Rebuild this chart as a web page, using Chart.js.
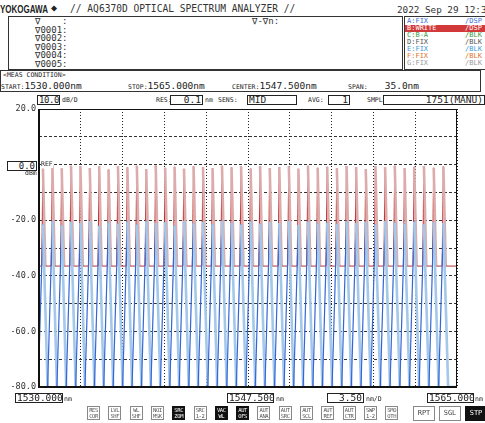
<!DOCTYPE html>
<html>
<head>
<meta charset="utf-8">
<script src="https://cdn.jsdelivr.net/npm/chart.js@4.4.1/dist/chart.umd.min.js"></script>
<style>
body{margin:0;width:485px;height:423px;overflow:hidden;background:#fff;position:relative;
  font-family:"DejaVu Sans Mono",monospace;color:#222}
.t{position:absolute;white-space:pre;line-height:1}
.box{position:absolute;border:1px solid #333;box-sizing:border-box}
.sm{font-size:6.5px}
.val{position:absolute;border:1px solid #222;box-sizing:border-box;font-size:9.5px;line-height:8px;
  white-space:pre;text-align:right;padding:0 1px;background:#fff}
.btn{position:absolute;top:406px;width:13px;height:14px;border:1px solid #888;box-sizing:border-box;
  font-size:5.5px;line-height:5.5px;text-align:center;color:#555;padding-top:1px;letter-spacing:-0.4px}
.btn.on{background:#111;color:#fff;border-color:#111}
.big{position:absolute;top:406px;height:15px;border:1px solid #888;box-sizing:border-box;
  font-size:7px;line-height:13px;text-align:center;color:#444}
canvas{position:absolute;left:0;top:100px}
</style>
</head>
<body>
<div class="t" style="left:0;top:4px;font:bold 10px 'Liberation Sans',sans-serif;transform:scaleX(0.8);transform-origin:left">YOKOGAWA</div>
<div class="t" style="left:51px;top:3px;font-size:10px">◆</div>
<div class="t" style="left:70px;top:4px;font-size:9.6px;color:#333">// AQ6370D OPTICAL SPECTRUM ANALYZER //</div>
<div class="t" style="left:397px;top:5px;font-size:9.3px;color:#333">2022 Sep 29 12:34</div>

<div class="box" style="left:8px;top:16px;width:395px;height:54px"></div>
<div class="t" style="left:35px;top:17px;font-size:9px;line-height:8.6px;color:#333">∇    :
∇0001:
∇0002:
∇0003:
∇0004:
∇0005:</div>
<div class="t" style="left:252px;top:17px;font-size:9px;color:#333">∇-∇n:</div>

<div class="box" style="left:404px;top:16px;width:90px;height:54px"></div>
<div id="traces" style="position:absolute;left:405px;top:17.5px;width:90px;font-size:7px;line-height:7px"></div>

<div class="box" style="left:0;top:70px;width:481px;height:22px"></div>
<div class="t sm" style="left:3px;top:72px">&lt;MEAS CONDITION&gt;</div>
<div class="t" style="left:1px;top:79px;line-height:10px"><span class="sm">START:</span><span style="font-size:9.5px">1530.000nm</span></div>
<div class="t" style="left:128px;top:79px;line-height:10px"><span class="sm">STOP:</span><span style="font-size:9.5px">1565.000nm</span></div>
<div class="t" style="left:232px;top:79px;line-height:10px"><span class="sm">CENTER:</span><span style="font-size:9.5px">1547.500nm</span></div>
<div class="t" style="left:348px;top:79px;line-height:10px"><span class="sm">SPAN:</span><span style="font-size:9.5px">   35.0nm</span></div>

<div class="val" style="left:37px;top:95px;width:23px;font-size:9px;letter-spacing:-0.4px">10.0</div>
<div class="t sm" style="left:62px;top:97px">dB/D</div>
<div class="t sm" style="left:156px;top:97px">RES:</div>
<div class="val" style="left:170px;top:95px;width:33px">0.1</div>
<div class="t sm" style="left:205px;top:97px">nm</div>
<div class="t sm" style="left:218px;top:97px">SENS:</div>
<div class="val" style="left:247px;top:95px;width:50px;text-align:left">MID</div>
<div class="t sm" style="left:308px;top:97px">AVG:</div>
<div class="val" style="left:328px;top:95px;width:22px">1</div>
<div class="t sm" style="left:367px;top:97px">SMPL:</div>
<div class="val" style="left:383px;top:95px;width:102px">1751(MANU)</div>

<canvas id="osa" width="485" height="300"></canvas>

<div class="val" style="left:7px;top:161px;width:30px;font-size:9px">0.0</div>
<div class="t sm" style="left:25px;top:170px">dBm</div>
<div class="t sm" style="left:41px;top:161px;background:#fff">REF</div>

<div class="val" style="left:15px;top:393px;width:48px">1530.000</div>
<div class="t sm" style="left:64px;top:396px">nm</div>
<div class="val" style="left:227px;top:393px;width:47px">1547.500</div>
<div class="t sm" style="left:276px;top:396px">nm</div>
<div class="val" style="left:327px;top:393px;width:37px">3.50</div>
<div class="t sm" style="left:366px;top:396px">nm/D</div>
<div class="val" style="left:427px;top:393px;width:47px">1565.000</div>
<div class="t sm" style="left:475px;top:396px">nm</div>

<div id="buttons"></div>
<div class="big" style="left:413px;width:22px">RPT</div>
<div class="big" style="left:439px;width:22px">SGL</div>
<div class="big" style="left:465px;width:22px;background:#111;color:#fff;border-color:#111">STP</div>

<script>
// axis settings of the instrument screen
const wlMin = 1530.0, wlMax = 1565.0, wlDiv = 3.5;
const levelMin = -80, levelMax = 20, levelDiv = 10;

// channel centres (nm)
const channels = [1530.33, 1531.12, 1531.90, 1532.68, 1533.47, 1534.25, 1535.04, 1535.82,
  1536.61, 1537.40, 1538.19, 1538.98, 1539.77, 1540.56, 1541.35, 1542.14, 1542.94, 1543.73,
  1544.53, 1545.32, 1546.12, 1546.92, 1547.72, 1548.51, 1549.32, 1550.12, 1550.92, 1551.72,
  1552.52, 1553.33, 1554.13, 1554.94, 1555.75, 1556.55, 1557.36, 1558.17, 1558.98, 1559.79,
  1560.61, 1561.42, 1562.23, 1563.05, 1563.86];

// trace B (WRITE, red) peak level per channel, dBm
const peaksB = [-1.5, -0.3, -1.4, -0.4, -0.5, -1.2, -0.6, -1.8, -0.5, -1.0, -0.4, -1.6,
  -0.3, -1.1, -0.8, -1.5, -0.6, -0.9, -1.3, -0.4, -1.0, -0.7, -1.4, -0.5, -1.2, -0.9,
  -0.6, -1.5, -0.4, -1.1, -0.8, -1.3, -0.5, -0.9, -1.6, -0.6, -1.0, -0.4, -1.2, -0.8,
  -0.5, -1.1, -0.7];
const floorB = -36.5;

// trace A (FIX, blue) peak level per channel, dBm
const peaksA = [-21.5, -20.4, -21.8, -20.6, -21.0, -20.3, -22.0, -20.8, -21.2, -20.5, -21.6,
  -20.4, -21.0, -20.7, -21.9, -20.3, -21.1, -20.6, -21.4, -20.2, -20.9, -21.5, -20.4,
  -21.2, -20.6, -21.0, -20.3, -21.7, -20.5, -21.1, -20.8, -21.3, -20.4, -21.0, -20.6,
  -21.5, -20.3, -20.9, -21.2, -20.5, -21.4, -20.7, -21.0];
const floorA = -80;

const traceRows = [
  ['A:FIX', '/DSP', '#3b6fd6', null],
  ['B:WRITE', '/DSP', '#fff', '#d23a3a'],
  ['C:B-A', '/BLK', '#3c9a3c', null],
  ['D:FIX', '/BLK', '#555', null],
  ['E:FIX', '/BLK', '#3e9ad8', null],
  ['F:FIX', '/BLK', '#e07428', null],
  ['G:FIX', '/BLK', '#9a9a9a', null]
];
const buttonLabels = [['RES', 'COR'], ['LVL', 'SHF'], ['WL', 'SHF'], ['NOI', 'MSK'], ['SRC', 'ZOM'],
  ['SRC', '1-2'], ['VAC', 'WL'], ['AUT', 'OFS'], ['AUT', 'ANA'], ['AUT', 'SRC'], ['AUT', 'SCL'],
  ['AUT', 'REF'], ['AUT', 'CTR'], ['SWP', '1-2'], ['SMO', 'OTH']];
const buttonsOn = ['SRC ZOM', 'VAC WL', 'AUT OFS'];

// side panels
let html = '';
traceRows.forEach(r => {
  html += '<div style="height:7px;color:' + r[2] + ';background:' + (r[3] || 'transparent') +
    ';position:relative"><span style="position:absolute;left:2px">' + r[0] +
    '</span><span style="position:absolute;left:60px">' + r[1] + '</span></div>';
});
document.getElementById('traces').innerHTML = html;

html = '';
buttonLabels.forEach((b, i) => {
  const on = buttonsOn.includes(b.join(' ')) ? ' on' : '';
  html += '<div class="btn' + on + '" style="left:' + (87 + i * 21.3).toFixed(1) + 'px">' + b[0] + '<br>' + b[1] + '</div>';
});
document.getElementById('buttons').innerHTML = html;

// traces as line points in (nm, dBm)
const traceB = [{x: wlMin, y: floorB}];
channels.forEach((c, i) => {
  traceB.push({x: c - 0.1, y: floorB}, {x: c, y: peaksB[i]}, {x: c + 0.2, y: floorB});
});
traceB.push({x: wlMax, y: floorB});

const traceA = [];
channels.forEach((c, i) => {
  traceA.push({x: c - 0.4, y: floorA}, {x: c, y: peaksA[i]});
});
traceA.push({x: channels[channels.length - 1] + 0.4, y: floorA}, {x: wlMax, y: floorA});

const frame = {
  id: 'frame',
  afterDraw(chart) {
    const {ctx, chartArea: a} = chart;
    ctx.save();
    ctx.strokeStyle = '#111';
    ctx.lineWidth = 1;
    ctx.strokeRect(a.left + 0.5, a.top + 0.5, a.width - 1, a.height - 1);
    ctx.lineWidth = 2;
    ctx.beginPath();
    ctx.moveTo(a.left, a.top);
    ctx.lineTo(a.left, a.bottom);
    ctx.lineTo(a.right, a.bottom);
    ctx.stroke();
    ctx.restore();
  }
};

new Chart(document.getElementById('osa'), {
  type: 'line',
  data: {
    datasets: [
      {
        label: 'A:FIX',
        data: traceA,
        order: 0,
        pointRadius: 0,
        borderWidth: 1,
        borderColor: '#2f62d4',
        segment: {
          borderColor: c => c.p1.parsed.y > c.p0.parsed.y ? '#3566d6' : '#a3c8ea',
          borderWidth: c => c.p1.parsed.y > c.p0.parsed.y ? 1.2 : 2.6
        }
      },
      {
        label: 'B:WRITE',
        data: traceB,
        order: 1,
        pointRadius: 0,
        borderWidth: 1,
        borderColor: '#b94848',
        segment: {
          borderColor: c => c.p1.parsed.y > c.p0.parsed.y ? '#c43434' :
            (c.p1.parsed.y < c.p0.parsed.y ? '#dcacac' : '#b94848'),
          borderWidth: c => c.p1.parsed.y < c.p0.parsed.y ? 2.6 : 1.1
        }
      }
    ]
  },
  options: {
    responsive: false,
    animation: false,
    layout: {padding: {left: 0, right: 28, top: 9, bottom: 13}},
    plugins: {legend: {display: false}, tooltip: {enabled: false}},
    scales: {
      x: {
        type: 'linear',
        min: wlMin,
        max: wlMax,
        z: 1,
        border: {display: false, dash: [1, 2]},
        ticks: {display: false, stepSize: wlDiv},
        grid: {color: '#222', lineWidth: 1, drawTicks: false},
        afterBuildTicks: s => { s.ticks.forEach(t => t.value = +t.value.toFixed(3)); },
        afterFit: s => { s.height = 0; }
      },
      y: {
        min: levelMin,
        max: levelMax,
        z: 1,
        border: {display: false, dash: [3, 2]},
        ticks: {
          stepSize: levelDiv,
          padding: 3,
          color: '#333',
          font: {family: 'DejaVu Sans Mono', size: 8.5},
          callback: v => (v % 20 === 0 && v !== 0) ? v.toFixed(1) : ''
        },
        grid: {color: '#333', lineWidth: 1, drawTicks: false},
        afterFit: s => { s.width = 39; }
      }
    }
  },
  plugins: [frame]
});
</script>
</body>
</html>
